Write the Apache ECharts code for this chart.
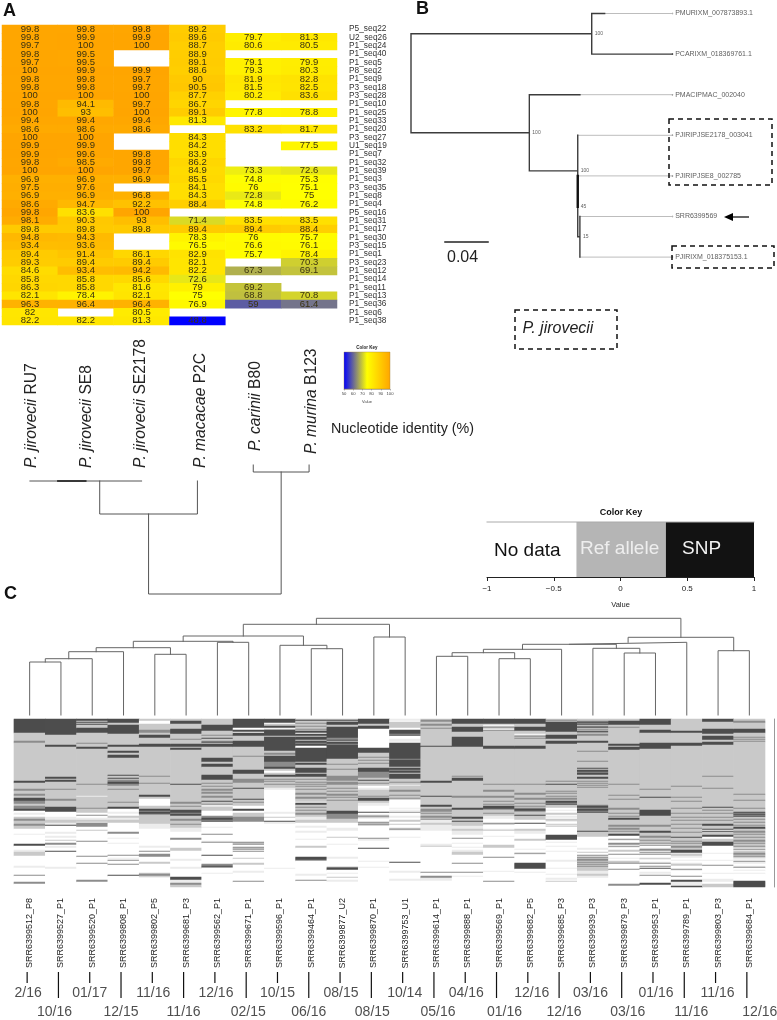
<!DOCTYPE html>
<html><head><meta charset="utf-8">
<style>html,body{margin:0;padding:0;background:#fff}#c{width:777px;height:1020px}</style>
<script src="https://cdn.jsdelivr.net/npm/echarts@6/dist/echarts.min.js"></script>
</head><body><div id="c"></div>
<script>
// ---------- Panel A data ----------
const seqNames = ['P5_seq22','U2_seq26','P1_seq24','P1_seq40','P1_seq5','P8_seq2','P1_seq9','P3_seq18','P3_seq28','P1_seq10','P1_seq25','P1_seq33','P1_seq20','P3_seq27','U1_seq19','P1_seq7','P1_seq32','P1_seq39','P1_seq3','P3_seq35','P1_seq8','P1_seq4','P5_seq16','P1_seq31','P1_seq17','P1_seq30','P3_seq15','P1_seq1','P3_seq23','P1_seq12','P1_seq14','P1_seq11','P1_seq13','P1_seq36','P1_seq6','P1_seq38'];
const strains = ['RU7','SE8','SE2178','P2C','B80','B123'];
const idRU7 = [99.8,99.8,99.7,99.8,99.7,100,99.8,99.8,100,99.8,100,99.4,98.6,100,99.9,99.9,99.8,100,96.9,97.5,96.9,98.6,99.8,98.1,89.8,94.8,93.4,89.4,89.3,84.6,85.8,86.3,82.1,96.3,82,82.2];
const idSE8 = [99.8,99.9,100,99.5,99.5,99.9,99.8,99.8,100,94.1,93,99.4,98.6,100,99.9,99.6,98.5,100,96.9,97.6,96.9,94.7,83.6,90.3,89.8,94.3,93.6,91.4,89.4,93.4,85.8,85.8,78.4,96.4,null,82.2];
const idSE2178 = [99.8,99.9,100,null,null,99.9,99.7,99.7,100,99.7,100,99.4,98.6,null,null,99.8,99.8,99.7,96.9,null,96.8,92.2,100,93,89.8,null,null,86.1,89.4,94.2,85.6,81.6,82.1,96.4,80.5,81.3];
const idP2C = [89.2,89.6,88.7,88.9,89.1,88.6,90,90.5,87.7,86.7,89.1,81.3,null,84.3,84.2,83.9,86.2,84.9,85.5,84.1,84.3,88.4,null,71.4,89.4,78.3,76.5,82.9,82.1,82.2,72.6,79,75,76.9,null,48.8];
const idB80 = [null,79.7,80.6,null,79.1,79.3,81.9,81.5,80.2,null,77.8,null,83.2,null,null,null,null,73.3,74.8,76,72.8,74.8,null,83.5,89.4,76,76.6,75.7,null,67.3,null,69.2,68.8,59,null,null];
const idB123 = [null,81.3,80.5,null,79.9,80.3,82.8,82.5,83.6,null,78.8,null,81.7,null,77.5,null,null,72.6,75.3,75.1,75,76.2,null,83.5,88.4,75.7,76.1,78.4,70.3,69.1,null,null,70.8,61.4,null,null];
const identityColors = ['#0000ff','#ffff00','#ffa500'];
// species tree of panel A: leaves are column indices; [left, right, depth]
const speciesTips = [16,16,16,16,0,0];
const speciesTree = [[[[0,1,16],2,16],3,49],[4,5,7],129];

// ---------- Panel B data ----------
const geneLeaves = ['PMURIXM_007873893.1','PCARIXM_018369761.1','PMACIPMAC_002040','PJIRIPJSE2178_003041','PJIRIPJSE8_002785','SRR6399569','PJIRIXM_018375153.1'];
const geneTipLen = [0.243,0.243,0.243,0.243,0.243,0.243,0.243];
const geneDarkTo = [0.18,0.243,0.157,null,null,null,null];
const geneTree = {d:0,kids:[
  {d:0.168,sup:100,kids:[0,1]},
  {d:0.110,sup:100,kids:[2,{d:0.155,sup:100,kids:[3,{d:0.155,sup:45,kids:[4,{d:0.157,sup:15,kids:[5,6]}]}]}]}
]};

// ---------- Panel C data ----------
const samples = ['SRR6399512_P8','SRR6399527_P1','SRR6399520_P1','SRR6399808_P1','SRR6399802_P5','SRR6399681_P3','SRR6399562_P1','SRR6399671_P1','SRR6399596_P1','SRR6399464_P1','SRR6399877_U2','SRR6399870_P1','SRR6399753_U1','SRR6399614_P1','SRR6399888_P1','SRR6399569_P1','SRR6399682_P5','SRR6399685_P3','SRR6399939_P3','SRR6399879_P3','SRR6399953_P1','SRR6399789_P1','SRR6399803_P3','SRR6399684_P1'];
const datesUpper = ['2/16','01/17','11/16','12/16','10/15','08/15','10/14','04/16','12/16','03/16','01/16','11/16'];
const datesLower = ['10/16','12/15','11/16','02/15','06/16','08/15','05/16','01/16','12/16','03/16','11/16','12/16'];
// run-length readings of each heat-map column, top to bottom:
// w no data, l faint, g ref allele, m mixed, d SNP
const snpRuns = [
"d14 g8 m2 g5 g33 d2 g6 m2 g3 m2 g2 d3 m3 g2 m3 d2 w2 l2 w2 g2 m2 g3 m2 g3 w5 l1 w9 d2 w4 l2 g4 w10 l2 w7 m1 w6 m2 w3",
"d16 g10 d2 g30 d2 g1 d2 g7 m1 g9 m2 g6 d5 w5 l3 g3 l2 d1 w6 l2 w2 l2 w2 g1 w2 m2 w1 l2 w3 d1 w15 l2 w18",
"d2 g1 d1 g1 d1 g3 d5 g10 m1 g3 d2 g35 m1 g11 l1 g11 m1 g4 w2 m1 w2 l2 g2 l1 m4 w3 g1 w10 m1 w14 m1 w6 m1 w16 m2 w6",
"d4 g2 d9 g11 d2 g4 d2 g2 d3 g17 d1 g2 d1 g1 m2 d2 m2 g3 m1 g12 m1 g4 d2 w3 l2 w2 g2 l2 g3 w9 m2 w4 l1 w4 l1 w11 m1 w2 l1 w1 m1 w3 m1 w10 d1 w11",
"g2 w3 g6 m3 g2 d3 g6 d3 g29 m1 g6 m1 g11 d2 g2 w7 g3 d2 m1 d2 m1 g9 l5 w17 l2 w3 m1 w2 m3 w5 g2 w9 g1 m2 g1 l1 w9",
"g2 d3 g5 d5 g5 m1 g4 d3 g1 d2 g34 d1 g17 m2 g2 m1 g3 d3 m1 d2 g3 m2 g3 m1 g3 l4 w6 m2 w8 g3 w8 l2 w6 l2 w8 d3 l3 m2 g2",
"g6 d6 g4 m1 g2 d1 g2 m1 d1 g1 d3 g11 d4 g2 d3 g8 d5 g3 m1 g2 m1 g2 m2 g1 m2 g2 m2 g3 d1 g2 m1 l2 g4 w5 m2 d2 m1 d1 w5 l1 w6 m1 w6 l1 m1 w12 d1 w8 m2 d1 m1 w5 l1 w5",
"d9 w2 d2 w1 d3 g5 d6 g9 m1 g13 d4 g5 m4 g5 d1 g10 d1 g2 m1 g3 w3 d2 w2 g4 m5 w20 m1 g1 m1 w2 m1 g1 m1 w1 m1 w6 g1 w4 g2 w6 l2 w8 m1 w4",
"d4 w1 g2 d2 w1 g1 d6 g1 d14 g2 m2 g1 d6 m5 d2 g2 w2 g2 d2 g2 m1 g1 m1 g2 m1 g3 l2 w22 l2 w3 g1 w3 d1 l2 w44 l1 w12",
"g1 d1 g2 m1 g2 m1 g2 m1 g1 d2 w1 d2 g1 d3 g1 d2 m1 d2 w2 d14 g1 d2 g3 d5 g1 d3 g2 m1 g2 m1 g1 m1 g1 m1 g2 m1 g3 m2 g2 m2 g3 w1 d2 g2 m1 g2 m1 g2 m2 g2 l3 g3 w3 l2 w3 l2 w6 l1 w6 g2 w9 d3 m1 w13 l2 w4 m1 w3",
"g1 d1 g1 d3 g2 d11 m2 d1 g1 d2 m1 d6 d8 g5 m1 g4 m1 g6 m5 g1 m3 g3 m1 g2 m1 g2 m2 g1 m1 g2 m1 g10 d3 m5 g4 w5 l3 w6 g1 w6 l1 w12 l2 w8 m1 d2 w3 l1 w3 g1 w2 l2 w4",
"d5 g2 d3 w19 d5 g4 m1 g2 m1 g2 m1 g4 d4 m6 g2 d1 g2 m1 g2 w2 l2 g4 g2 m1 g1 d3 g2 l3 w6 d1 w2 g1 m1 g1 l1 w3 m1 g1 m1 g1 w12 m1 l2 w7 d1 w12 l1 w5 l1 w9",
"l2 w1 g6 w2 d4 m1 d1 w3 l3 w1 d16 m1 d7 g1 d2 m1 d2 g1 d5 g3 m1 g2 l1 g4 m2 g3 m1 g2 m1 g1 w8 l1 w1 l1 w1 m1 w3 l2 w2 g2 w2 g1 w3 g1 m1 l1 w6 l1 w6 w18 d1 w8 l2 w6 l2",
"g1 m2 g2 m2 g2 m1 g1 g16 d1 g34 d2 g13 d1 g8 d2 g2 m3 g1 m1 g2 m2 g1 m1 l3 g2 l6 w13 l2 g1 w25 m1 w3 m2 l3 w6",
"d5 g3 d5 g5 d10 g29 m1 g1 d3 g15 m2 g10 d2 g7 d2 g2 d1 g4 l3 g2 l4 w3 m1 w4 l1 w3 l1 w2 l2 g3 w8 m1 w8 m1 w3 l1 w12",
"d5 g1 w1 g1 m1 g1 w1 m1 g15 d3 g35 m1 g5 m2 g4 m2 g3 m1 g2 m1 g1 d3 m1 g3 m1 g2 l3 w4 m1 g1 w4 l1 g1 w5 l1 w8 g3 w9 m1 w13 l1 w9 m1 w5",
"d5 g3 d4 g3 w1 g1 m1 g1 m1 g7 d3 g35 m1 g8 m2 g3 m2 g3 m1 g2 m1 g1 m1 d2 m1 g3 d1 g4 w3 d1 w5 g2 l3 w5 g2 w8 l1 w3 m1 l1 w8 d6 w3 l1 w10",
"g1 m1 g1 d10 g3 d4 g2 d3 g37 m1 g2 d1 g6 m1 g1 m1 g2 m1 g1 m2 g1 d2 m1 d1 g3 w2 l1 w2 g2 w1 l2 w1 g2 l1 w2 g1 l1 g1 w8 d5 w2 l1 w3 l1 w4 l1 w8 l2 w6 l1 w5 l1 w3 l2 w1 g1 w1",
"g2 m1 d1 m1 d1 g1 m1 d1 g1 m1 g1 d1 m1 g1 m2 g3 g2 d2 g8 m1 g9 m1 g6 d1 g1 d2 m1 d2 g2 d2 g2 m1 g1 m1 g1 m1 g1 m1 g17 m1 d2 m1 d2 m1 d1 g18 d1 g5 w11 l2 w2 g1 w2 m1 l1 m1 g1 m2 g1 m1 g1 m1 g1 m1 g4 l3 g2 l2 w3",
"g2 d4 g2 m1 g16 d2 g1 d3 g34 m1 g10 m1 g3 m1 g8 m2 g3 m1 g2 m1 g1 d2 g5 m2 g1 m2 g1 m1 g2 d2 w3 m1 l1 w2 m2 w1 m1 l1 w2 g2 w2 m1 w3 l1 w2 g2 m1 w5 m1 w14 m2",
"d6 g5 d3 g10 d6 g40 m1 g7 d1 g12 d6 g9 m2 g4 d2 g3 m2 g2 m1 g2 m1 l1 m1 w2 l1 m2 w1 m1 l1 m1 w3 g1 l1 w2 l1 m1 w2 m1 w1 d1 w3 l2 w1 m1 w7 d2 w5",
"g12 d2 g10 d3 g40 m1 g10 m1 g3 m1 g6 m1 g4 m1 g3 m1 g2 m1 g3 m1 g3 m1 g3 m1 g4 d1 g3 m1 g1 m1 g2 m2 g2 d3 l1 g2 l2 w2 l1 w2 l1 g2 w3 m1 l1 w5 m1 w3 d2 l4 d2",
"d3 g7 d5 g2 d4 g2 d3 g31 m1 g11 m1 g18 d1 g2 m1 g2 m1 g3 m1 g2 m1 g3 d2 g3 d1 w1 d1 g3 d2 w2 g3 d4 w7 l1 w6 l1 w4 m1 w7 l1 w5 l3 w2 g3 w3",
"g2 m2 g6 d4 g4 m1 g1 m1 g1 m1 g2 g50 m1 g5 m1 g7 m1 g3 d1 m1 d1 m1 d1 g2 m1 g2 m1 g2 m1 g1 d2 g2 m2 g1 m1 g2 m1 g2 m2 g1 m1 g2 m1 g1 l1 m1 l1 g2 m2 g1 m1 g1 l2 w1 m1 l2 w2 l1 m1 w2 l1 w2 l1 w7 d7"
];
const snpRowCount = 168;
const snpLevels = {w:-1,l:-0.7,g:0,m:0.55,d:1};
const snpColors = {'-1':'#ffffff','-0.7':'#ececec','0':'#c9c9c9','0.55':'#8c8c8c','1':'#4d4d4d'};
// sample clustering: [left, right, height]
const sampleTree = [
  [[[[[[[[0,1,53],2,56.3],3,63.3],[4,5,60.7],67.3],[6,7,72.7],73.7],[8,[9,10,66.3],69.7],79],[11,12,78],90.7]],
  [[[[[[13,14,58.7],[15,16,56.3],62.3],17,65.7],[18,[19,20,62],66.7],70.7],21,72.7],[22,23,64.3],77.7],
  96.7];
// colour keys
const identityKey = [[50,100]];
const snpKeyBands = [[-1,-0.33],[-0.33,0.34],[0.34,1]];
const snpKeyColors = ['#ffffff','#b5b5b5','#121212'];

// ---------- helpers ----------
const FF = '"Liberation Sans",Arial,Helvetica,sans-serif';
const BRK = ['-','-'];
function cladoPath(tree, tip){
  const pts=[];
  (function walk(n){
    if(typeof n==='number') return {x:n,h:tip?tip[n]:0};
    const kids = n.length===1 ? walk(n[0]) : null;
    if(kids) return kids;
    const a=walk(n[0]), b=walk(n[1]), H=n[2];
    pts.push([a.x,a.h],[a.x,H],[b.x,H],[b.x,b.h],BRK);
    return {x:(a.x+b.x)/2,h:H};
  })(tree);
  return pts;
}
function lineSeries(xi,yi,data,color,width){
  return {type:'line',xAxisIndex:xi,yAxisIndex:yi,data,symbol:'none',silent:true,clip:false,animation:false,
    lineStyle:{color,width,cap:'square',join:'miter'},connectNulls:false,z:3};
}
function text(x,y,t,o){
  return {type:'text',x,y,silent:true,rotation:(o&&o.rot)||0,z:20,style:Object.assign({text:t,fontFamily:FF,fontSize:16,fill:'#222',align:'left',verticalAlign:'middle'},o&&o.s)};
}
function speciesLabel(x,y,it,rest){
  return {type:'text',x,y,silent:true,rotation:Math.PI/2,z:20,style:{text:'{i|'+it+'} {n|'+rest+'}',fontFamily:FF,fontSize:15.6,fill:'#222',align:'left',verticalAlign:'middle',
    rich:{i:{fontFamily:FF,fontSize:15.6,fontStyle:'italic',fill:'#222'},n:{fontFamily:FF,fontSize:15.6,fill:'#222'}}}};
}
function box(x,y,w,h){
  return {type:'rect',silent:true,z:20,shape:{x,y,width:w,height:h},style:{fill:'transparent',stroke:'#111',lineWidth:1.5,lineDash:[5,4]}};
}

// ---------- grids ----------
const grids=[
 {left:2,top:25,width:335,height:300},            // 0 heatmap A
 {left:2,top:465,width:335,height:129},           // 1 species tree
 {left:344,top:352,width:46,height:37},           // 2 key A
 {left:411,top:13.5,width:355,height:243.6},      // 3 gene tree
 {left:487,top:522,width:267,height:55},          // 4 key C
 {left:14,top:615,width:751,height:100},          // 5 sample tree
 {left:14,top:719,width:751,height:168},          // 6 heatmap C
 {left:11.5,top:972,width:751,height:48}          // 7 date ticks
];
const hidden={show:false};
const colIdx=samples.map((_,i)=>i);
const xAxes=[
 {gridIndex:0,type:'category',data:strains,show:false},
 {gridIndex:1,type:'value',min:-0.5,max:5.5,show:false},
 {gridIndex:2,type:'value',min:50,max:100,interval:10,axisLine:{lineStyle:{color:'#777',width:0.5}},axisTick:{length:1.5,lineStyle:{color:'#777',width:0.5}},splitLine:hidden,
   axisLabel:{fontSize:4.2,margin:3,color:'#444',fontFamily:FF,hideOverlap:false},name:'Value',nameLocation:'middle',nameGap:11,nameTextStyle:{fontSize:4,color:'#444',fontFamily:FF}},
 {gridIndex:3,type:'value',min:0,max:0.33,show:false},
 {gridIndex:4,type:'value',min:-1,max:1,interval:0.5,splitLine:hidden,axisLine:{lineStyle:{color:'#222',width:1}},axisTick:{length:4,lineStyle:{color:'#222'}},
   axisLabel:{fontSize:8,margin:8,color:'#222',fontFamily:FF,formatter:v=>String(v).replace('-','\u2212')},name:'Value',nameLocation:'middle',nameGap:24,nameTextStyle:{fontSize:7.5,color:'#222',fontFamily:FF}},
 {gridIndex:5,type:'value',min:-0.5,max:23.5,show:false},
 {gridIndex:6,type:'category',data:samples,axisLine:hidden,axisTick:hidden,splitLine:hidden,
   axisLabel:{interval:0,rotate:90,fontSize:9,margin:11,color:'#222',fontFamily:FF}},
 {gridIndex:7,type:'category',data:colIdx,show:false}
];
const rowIdx=Array.from({length:snpRowCount},(_,i)=>i);
const yAxes=[
 {gridIndex:0,type:'category',data:seqNames,inverse:true,position:'right',axisLine:hidden,axisTick:hidden,splitLine:hidden,
   axisLabel:{interval:0,fontSize:8.3,margin:12,color:'#333',fontFamily:FF}},
 {gridIndex:1,type:'value',min:0,max:129,inverse:true,show:false},
 {gridIndex:2,type:'value',min:0,max:1,show:false},
 {gridIndex:3,type:'value',min:0,max:6,inverse:true,show:false},
 {gridIndex:4,type:'value',min:0,max:1,show:false},
 {gridIndex:5,type:'value',min:0,max:100,show:false},
 {gridIndex:6,type:'category',data:rowIdx,inverse:true,position:'right',offset:9,axisLine:{show:true,lineStyle:{color:'#999',width:1}},axisTick:hidden,axisLabel:hidden,splitLine:hidden},
 {gridIndex:7,type:'value',min:0,max:48,inverse:true,show:false}
];

// ---------- series ----------
const series=[];
// heatmap A
const idCols=[idRU7,idSE8,idSE2178,idP2C,idB80,idB123];
const heatA=[];
idCols.forEach((col,c)=>col.forEach((v,r)=>{if(v!==null)heatA.push([c,r,v]);}));
series.push({type:'heatmap',xAxisIndex:0,yAxisIndex:0,data:heatA,silent:true,animation:false,progressive:0,
  label:{show:true,fontSize:9.5,color:'#3a3210',fontFamily:FF,formatter:p=>String(p.value[2])}});
const heatAIdx=series.length-1;
// species tree
series.push(lineSeries(1,1,cladoPath(speciesTree,speciesTips),'#555',1));
series.push(lineSeries(1,1,[[0.5,16],[1,16]],'#222',1.5));
// key A
series.push({type:'custom',xAxisIndex:2,yAxisIndex:2,data:identityKey,silent:true,animation:false,
  renderItem:(p,api)=>{const a=api.coord([api.value(0),1]),b=api.coord([api.value(1),0]);
    return {type:'rect',shape:{x:a[0],y:a[1],width:b[0]-a[0],height:b[1]-a[1]},
      style:{fill:new echarts.graphic.LinearGradient(0,0,1,0,identityColors.map((c,i)=>({offset:i/(identityColors.length-1),color:c}))),stroke:'#a08040',lineWidth:0.4}};}});
// gene tree
const darkSeg=[],lightSeg=[],tips=[],supports=[];
(function walk(n){
  const ys=n.kids.map(k=>{
    if(typeof k==='number'){
      const dark=geneDarkTo[k], tip=geneTipLen[k];
      if(dark!==null){darkSeg.push([n.d,k],[dark,k],BRK); if(dark<tip) lightSeg.push([dark,k],[tip,k],BRK);}
      else lightSeg.push([n.d,k],[tip,k],BRK);
      tips.push({name:geneLeaves[k],value:[tip,k]});
      return k;
    }
    const y=walk(k).y;
    darkSeg.push([n.d,y],[k.d,y],BRK);
    return y;
  });
  darkSeg.push([n.d,ys[0]],[n.d,ys[1]],BRK);
  const y=(ys[0]+ys[1])/2;
  if(n.sup) supports.push({value:[n.d,y],name:String(n.sup)});
  return {y};
})(geneTree);
series.push(lineSeries(3,3,lightSeg,'#bdbdbd',1));
series.push(lineSeries(3,3,darkSeg,'#3c3c3c',1.4));
series.push(lineSeries(3,3,[[0.155,4],[0.155,4.76]],'#111',2.4));
series.push(lineSeries(3,3,[[0.0316,5.63],[0.0716,5.63]],'#222',1.5));
series.push({type:'scatter',xAxisIndex:3,yAxisIndex:3,data:tips,symbolSize:1.5,itemStyle:{color:'#222'},silent:true,animation:false,clip:false,
  label:{show:true,position:'right',distance:2,fontSize:7,color:'#333',fontFamily:FF,formatter:p=>p.name}});
series.push({type:'scatter',xAxisIndex:3,yAxisIndex:3,data:supports,symbolSize:0,silent:true,animation:false,clip:false,
  label:{show:true,position:'right',distance:3,fontSize:5,color:'#333',fontFamily:FF,formatter:p=>p.name}});
// key C
series.push({type:'custom',xAxisIndex:4,yAxisIndex:4,data:snpKeyBands,silent:true,animation:false,
  renderItem:(p,api)=>{const a=api.coord([api.value(0),1]),b=api.coord([api.value(1),0]);
    return {type:'rect',shape:{x:a[0],y:a[1],width:b[0]-a[0],height:b[1]-a[1]},style:{fill:snpKeyColors[p.dataIndex]}};}});
series.push(lineSeries(4,4,[[-1,1],[1,1]],'#aaa',1));
// sample tree
series.push(lineSeries(5,5,cladoPath(sampleTree),'#666',1));
// heatmap C
const heatC=[];
snpRuns.forEach((s,c)=>{
  let r=0;
  s.split(' ').forEach(tok=>{
    const lv=snpLevels[tok[0]], n=+tok.slice(1);
    for(let i=0;i<n&&r<snpRowCount;i++,r++) heatC.push([c,r,lv]);
  });
  for(;r<snpRowCount;r++) heatC.push([c,r,snpLevels.w]);
});
series.push({type:'heatmap',xAxisIndex:6,yAxisIndex:6,data:heatC,silent:true,animation:false,progressive:0});
const heatCIdx=series.length-1;
// date ticks and labels
const tickLen=samples.map((_,i)=>i%2===0?11:26);
series.push({type:'bar',xAxisIndex:7,yAxisIndex:7,data:tickLen,barWidth:1.2,itemStyle:{color:'#111'},silent:true,animation:false});
const dateRowY=[21,40];
const upperNudge=[1,0,1,1,0,1,2,1,4,0,3,2];
const lowerNudge=[-4,0,0,2,0,1,4,8,5,6,7,13];
const dateData=[];
datesUpper.forEach((d,i)=>dateData.push({value:[i*2,dateRowY[0]],name:d,label:{offset:[upperNudge[i],0]}}));
datesLower.forEach((d,i)=>dateData.push({value:[i*2+1,dateRowY[1]],name:d,label:{offset:[lowerNudge[i],0]}}));
series.push({type:'scatter',xAxisIndex:7,yAxisIndex:7,data:dateData,symbolSize:0,silent:true,animation:false,clip:false,
  label:{show:true,position:'inside',fontSize:14,color:'#222',fontFamily:FF,formatter:p=>p.name}});

// ---------- annotations ----------
const graphicEls=[
 text(3,11,'A',{s:{fontSize:18,fontWeight:'bold',fill:'#111'}}),
 text(416,9,'B',{s:{fontSize:18,fontWeight:'bold',fill:'#111'}}),
 text(4,594,'C',{s:{fontSize:18,fontWeight:'bold',fill:'#111'}}),
 speciesLabel(32,468,'P. jirovecii','RU7'),
 speciesLabel(87,468,'P. jirovecii','SE8'),
 speciesLabel(141,468,'P. jirovecii','SE2178'),
 speciesLabel(201,468,'P. macacae','P2C'),
 speciesLabel(256,451,'P. carinii','B80'),
 speciesLabel(312,454,'P. murina','B123'),
 text(331,429,'Nucleotide identity (%)',{s:{fontSize:14.3}}),
 text(367,348,'Color Key',{s:{fontSize:4.5,fontWeight:'bold',align:'center'}}),
 text(447,258,'0.04',{s:{fontSize:16}}),
 box(669,119,103,66), box(672,246,102,22), box(515,310,102,39),
 {type:'text',x:558,y:329,silent:true,z:20,style:{text:'P. jirovecii',fontFamily:FF,fontSize:16,fontStyle:'italic',fill:'#222',align:'center',verticalAlign:'middle'}},
 {type:'line',silent:true,z:20,shape:{x1:732,y1:217,x2:749,y2:217},style:{stroke:'#000',lineWidth:1.2}},
 {type:'polygon',silent:true,z:20,shape:{points:[[724,217],[733,213],[733,221]]},style:{fill:'#000'}},
 text(621,513,'Color Key',{s:{fontSize:9,fontWeight:'bold',align:'center',fill:'#111'}}),
 text(494,551,'No data',{s:{fontSize:19,fill:'#111'}}),
 text(580,549,'Ref allele',{s:{fontSize:19,fill:'#eeeeee'}}),
 text(682,549,'SNP',{s:{fontSize:19,fill:'#f2f2f2'}})
];

const chart=echarts.init(document.getElementById('c'),null,{renderer:'canvas',width:777,height:1020});
const pieces=Object.keys(snpColors).map(k=>({value:+k,color:snpColors[k]}));
chart.setOption({
  animation:false,backgroundColor:'#fff',textStyle:{fontFamily:FF},
  grid:grids,xAxis:xAxes,yAxis:yAxes,series,
  visualMap:[
    {type:'continuous',show:false,min:50,max:100,seriesIndex:heatAIdx,inRange:{color:identityColors}},
    {type:'piecewise',show:false,seriesIndex:heatCIdx,pieces}
  ],
  graphic:{elements:graphicEls}
});
</script></body></html>
